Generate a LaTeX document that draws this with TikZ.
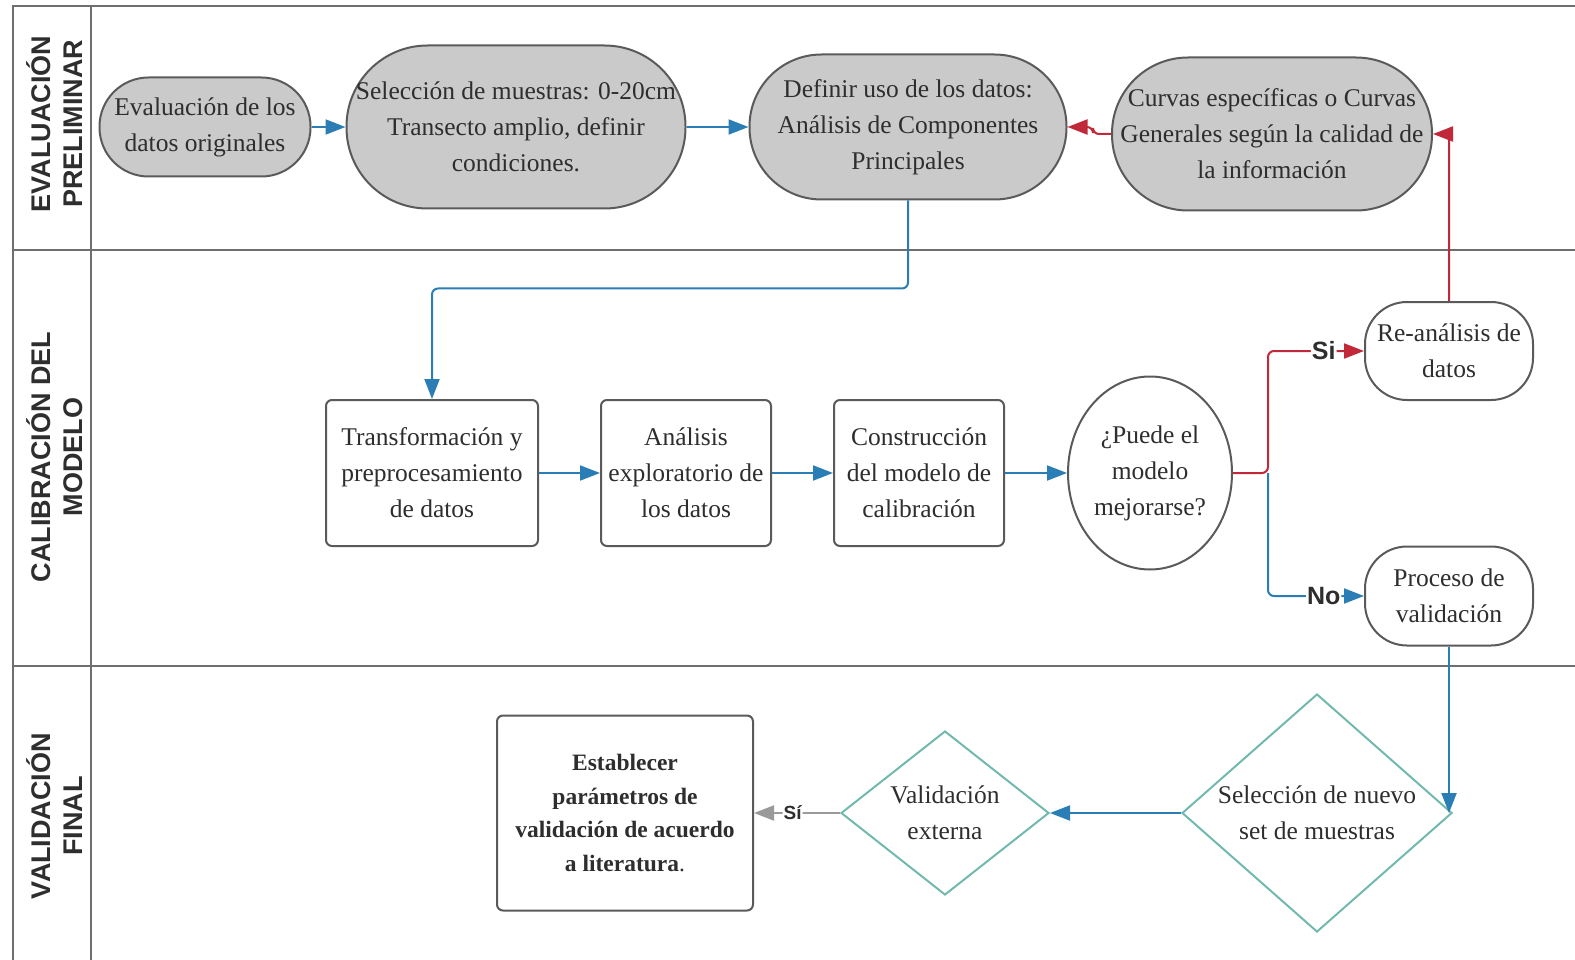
\documentclass[tikz,border=0pt]{standalone}
\usepackage{fontspec}
\setmainfont{Liberation Serif}
\setsansfont{Liberation Sans}
\usetikzlibrary{positioning,arrows.meta,shapes.geometric}
\definecolor{grisfondo}{HTML}{CACACA}
\definecolor{borde}{HTML}{5A5A5A}
\definecolor{marcogris}{HTML}{6E6E6E}
\definecolor{azul}{HTML}{2A7DB5}
\definecolor{rojo}{HTML}{C1283A}
\definecolor{turquesa}{HTML}{72B9AD}
\definecolor{texto}{HTML}{2E2E2E}
\definecolor{gristenue}{HTML}{9A9A9A}

\begin{document}
\begin{tikzpicture}[x=1pt,y=-1pt,font=\fontsize{25.5}{36}\selectfont,text=texto,
  capsula/.style={draw=borde, line width=2pt, fill=grisfondo, rounded corners=#1, inner sep=0pt, align=center},
  caja/.style={draw=borde, line width=2pt, fill=white, rounded corners=#1, inner sep=0pt, align=center},
  rombo/.style={draw=turquesa, line width=2pt, diamond, aspect=1.25, inner sep=0pt, align=center},
  carril/.style={rotate=90, align=center, font=\sffamily\bfseries\fontsize{27}{32}\selectfont},
  marco/.style={draw=marcogris, line width=2pt},
  flecha/.style={line width=2pt, rounded corners=6pt, -{Triangle[length=20pt,width=15pt]}},
  etiqueta/.style={fill=white, inner sep=1pt, text=texto, font=\sffamily\bfseries\fontsize{25}{25}\selectfont}]
  \useasboundingbox (0,0) rectangle (1575,960);
  % carriles
  \draw[marco] (1575,6) -- (13,6) -- (13,960);
  \draw[marco] (91,6) -- (91,960);
  \foreach \y in {250,666}{\draw[marco] (13,\y) -- (1575,\y);}
  \foreach \y/\t in {124/{EVALUACIÓN\\PRELIMINAR},457/{CALIBRACIÓN DEL\\MODELO},816/{VALIDACIÓN\\FINAL}}{
    \node[carril] (carril\y) at (55,\y) {\t};
  }
  % evaluacion preliminar
  \node[capsula=49pt, minimum width=211, minimum height=99] (eval) at (205,127) {Evaluación de los\\datos originales};
  \node[capsula=81pt, minimum width=339, minimum height=163] (sel) at (516,127) {Selección de muestras: 0-20cm\\Transecto amplio, definir\\condiciones.};
  \node[capsula=72pt, minimum width=317, minimum height=145] (def) at (908,127) {Definir uso de los datos:\\Análisis de Componentes\\Principales};
  \node[capsula=76pt, minimum width=320, minimum height=153] (curv) at (1272,134) {Curvas específicas o Curvas\\Generales según la calidad de\\la información};
  % calibracion del modelo
  \node[caja=6pt, minimum width=212, minimum height=146] (transf) at (432,473) {Transformación y\\preprocesamiento\\de datos};
  \node[caja=6pt, minimum width=170, minimum height=146] (anal) at (686,473) {Análisis\\exploratorio de\\los datos};
  \node[caja=6pt, minimum width=170, minimum height=146] (constr) at (919,473) {Construcción\\del modelo de\\calibración};
  \node[draw=borde, line width=2pt, ellipse, inner sep=0pt, minimum width=164, minimum height=193, align=center] (puede) at (1150,473) {¿Puede el\\modelo\\mejorarse?};
  \node[caja=42pt, minimum width=168, minimum height=98] (rean) at (1449,351) {Re-análisis de\\datos};
  \node[caja=42pt, minimum width=168, minimum height=99] (proc) at (1449,596) {Proceso de\\validación};
  \coordinate (rama) at (1268,473);
  % validacion final
  \node[rombo, minimum width=270, minimum height=238] (seln) at (1317,813) {Selección de nuevo\\set de muestras};
  \node[rombo, minimum width=208, minimum height=164] (valext) at (945,813) {Validación\\externa};
  \node[caja=6pt, minimum width=256, minimum height=195, font=\bfseries\fontsize{23.5}{33.5}\selectfont] (estab) at (625,813) {Establecer\\parámetros de\\validación de acuerdo\\a literatura{\mdseries.}};
  % conectores
  \draw[flecha, azul] (eval) -- (sel);
  \draw[flecha, azul] (sel) -- (def);
  \draw[flecha, rojo] (curv.west) -- ++(-18,0) |- (def.east);
  \draw[flecha, rojo] (rean.north) |- (curv.east);
  \draw[flecha, azul] (def.south) -- ++(0,88) -| (transf.north);
  \draw[flecha, azul] (transf) -- (anal);
  \draw[flecha, azul] (anal) -- (constr);
  \draw[flecha, azul] (constr) -- (puede);
  \draw[flecha, rojo] (puede.east) -- (rama) |- node[etiqueta, pos=0.79] {Si} (rean.west);
  \draw[flecha, azul] (rama) |- node[etiqueta, pos=0.79] {No} (proc.west);
  \draw[flecha, azul] (proc.south) -- (proc.south |- seln.east);
  \draw[flecha, azul] (seln) -- (valext);
  \draw[flecha, gristenue] (valext) -- node[etiqueta, pos=0.55, font=\sffamily\bfseries\fontsize{19}{19}\selectfont] {Sí} (estab);
\end{tikzpicture}
\end{document}
